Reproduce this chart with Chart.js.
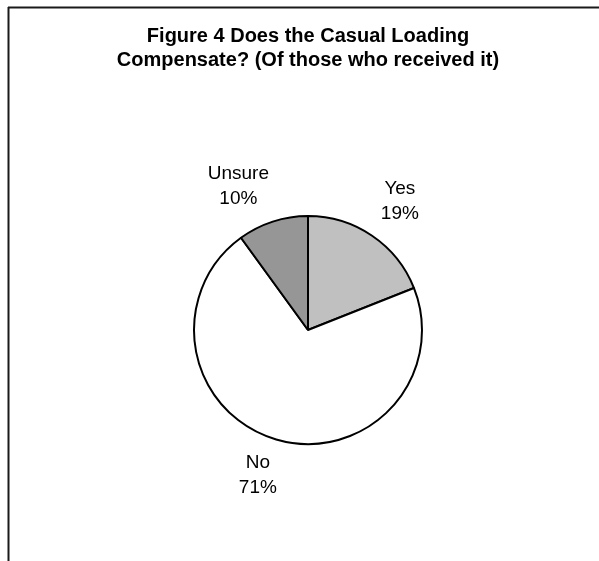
<!DOCTYPE html>
<html lang="en">
<head>
  <meta charset="UTF-8">
  <title>Figure 4</title>
  <script src="https://cdn.jsdelivr.net/npm/chart.js"></script>
  <style>
    html, body { margin: 0; padding: 0; background: #fff; }
    .wrap { position: relative; width: 599px; height: 561px; }
  </style>
</head>
<body>
  <div class="wrap">
    <canvas id="pieChart"></canvas>
  </div>

  <script>
    // dados
    const categories = ['Yes', 'No', 'Unsure'];
    const shares = [19, 71, 10];
    const sliceColors = ['#c0c0c0', '#ffffff', '#969696'];
    const titleLines = ['Figure 4 Does the Casual Loading', 'Compensate? (Of those who received it)'];

    const fontFamily = '"Liberation Sans", Arial, Helvetica, sans-serif';

    // moldura (linha superior e esquerda)
    const framePlugin = {
      id: 'frame',
      beforeDraw(chart) {
        const ctx = chart.ctx;
        ctx.save();
        ctx.fillStyle = '#fff';
        ctx.fillRect(0, 0, chart.width, chart.height);
        ctx.strokeStyle = '#1a1a1a';
        ctx.lineWidth = 2;
        ctx.beginPath();
        ctx.moveTo(8, 7.5);
        ctx.lineTo(chart.width, 7.5);
        ctx.moveTo(8.5, 7);
        ctx.lineTo(8.5, chart.height);
        ctx.stroke();
        ctx.restore();
      }
    };

    // rótulos fora das fatias
    const outsideLabels = {
      id: 'outsideLabels',
      afterDatasetsDraw(chart, args, opts) {
        const ctx = chart.ctx;
        const meta = chart.getDatasetMeta(0);
        ctx.save();
        ctx.font = '19px ' + fontFamily;
        ctx.fillStyle = '#000';
        ctx.textAlign = 'center';
        ctx.textBaseline = 'middle';
        meta.data.forEach((arc, i) => {
          const p = arc.getProps(['x', 'y', 'startAngle', 'endAngle', 'outerRadius'], true);
          const mid = (p.startAngle + p.endAngle) / 2;
          const d = p.outerRadius + opts.distance;
          const nudge = opts.nudges[i] || [0, 0];
          const cx = p.x + Math.cos(mid) * d + nudge[0];
          const cy = p.y + Math.sin(mid) * d + nudge[1];
          ctx.fillText(categories[i], cx, cy - opts.lineGap / 2);
          ctx.fillText(shares[i] + '%', cx, cy + opts.lineGap / 2);
        });
        ctx.restore();
      }
    };

    const ctx = document.getElementById('pieChart').getContext('2d');
    new Chart(ctx, {
      type: 'pie',
      data: {
        labels: categories,
        datasets: [{
          data: shares,
          backgroundColor: sliceColors,
          borderColor: '#000',
          borderWidth: 2
        }]
      },
      options: {
        responsive: true,
        maintainAspectRatio: false,
        animation: false,
        layout: {
          padding: { left: 17, right: 0, top: 0, bottom: 116 }
        },
        plugins: {
          legend: { display: false },
          tooltip: { enabled: false },
          title: {
            display: true,
            text: titleLines,
            color: '#000',
            font: { family: fontFamily, size: 20, weight: 'bold', lineHeight: 1.2 },
            padding: { top: 24, bottom: 143 }
          },
          outsideLabels: {
            distance: 37,
            lineGap: 25,
            nudges: [[7, -4], [-8, 0], [-23, 0]]
          }
        }
      },
      plugins: [framePlugin, outsideLabels]
    });
  </script>
</body>
</html>
